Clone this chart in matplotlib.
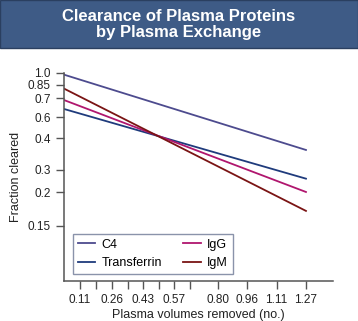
import matplotlib
matplotlib.use("Agg")
import matplotlib.pyplot as plt
from matplotlib.patches import Rectangle

plt.rcParams["font.family"] = ["Liberation Sans", "DejaVu Sans"]

# x axis: tick positions (schematic spacing) and their labels
x_tick_pos = [0.084, 0.168, 0.250, 0.334, 0.416, 0.499, 0.579, 0.661, 0.810, 0.959, 1.116, 1.27]
x_tick_labels = ["0.11", "", "0.26", "", "0.43", "", "0.57", "", "0.80", "0.96", "1.11", "1.27"]

# y axis: tick positions (schematic spacing) and their labels
y_tick_pos = [1.0, 0.944, 0.878, 0.787, 0.686, 0.534, 0.426, 0.266]
y_tick_labels = ["1.0", "0.85", "0.7", "0.6", "0.4", "0.3", "0.2", "0.15"]

# each protein: start and end of its clearance line
x_vals = [0.0, 1.27]
series = ["C4", "Transferrin", "IgG", "IgM"]
y_vals = {
    "C4": [0.992, 0.630],
    "Transferrin": [0.827, 0.492],
    "IgG": [0.870, 0.428],
    "IgM": [0.925, 0.337],
}
colors = {
    "C4": "#4d4b8e",
    "Transferrin": "#1f3b7c",
    "IgG": "#b0166e",
    "IgM": "#7a1414",
}

fig = plt.figure(figsize=(3.58, 3.21), dpi=100)

# title banner
fig.patches.append(Rectangle((0, 0.850), 1, 0.150, transform=fig.transFigure,
                             facecolor="#3e5b86", edgecolor="#2a3f60", linewidth=1))
fig.text(0.5, 0.924, "Clearance of Plasma Proteins\nby Plasma Exchange",
         ha="center", va="center", color="white", fontsize=12,
         fontweight="bold", linespacing=1.1)

ax = fig.add_axes([0.1788, 0.1246, 0.7514, 0.648])
for name in series:
    ax.plot(x_vals, y_vals[name], color=colors[name], lw=1.3, label=name)

ax.set_xlim(0, 1.412)
ax.set_ylim(0, 1.0)
ax.set_xticks(x_tick_pos)
ax.set_xticklabels(x_tick_labels)
ax.set_yticks(y_tick_pos)
ax.set_yticklabels(y_tick_labels)

for s in ["top", "right"]:
    ax.spines[s].set_visible(False)
for s in ["left", "bottom"]:
    ax.spines[s].set_color("#555555")
    ax.spines[s].set_linewidth(1.1)
ax.tick_params(colors="#555555", labelcolor="#222222", labelsize=8.5,
               length=6, width=1, direction="out")

ax.set_ylabel("Fraction cleared", fontsize=9, color="#222222")
ax.set_xlabel("Plasma volumes removed (no.)", fontsize=9, color="#222222", labelpad=2)

leg = ax.legend(ncol=2, loc="lower left", bbox_to_anchor=(0.032, 0.034, 0.596, 0.192),
                mode="expand", fontsize=9, handlelength=1.4, handletextpad=0.5,
                fancybox=False, framealpha=1, borderaxespad=0)
leg.get_frame().set_edgecolor("#8a93aa")
leg.get_frame().set_linewidth(1)

fig.savefig("out.png", dpi=100)
